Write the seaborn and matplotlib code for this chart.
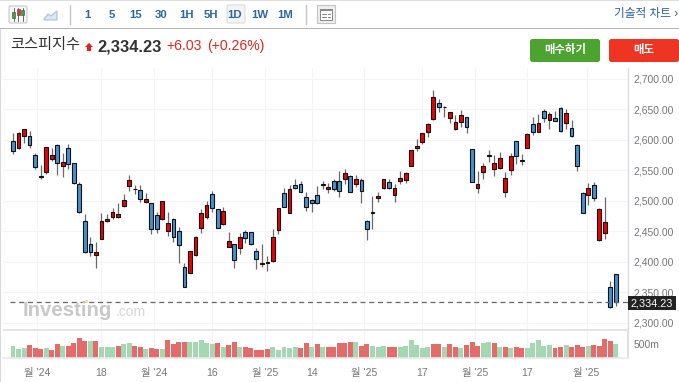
import matplotlib
matplotlib.use('Agg')
import matplotlib.pyplot as plt
from matplotlib.patches import FancyBboxPatch, Rectangle, Polygon
import numpy as np
import pandas as pd
import seaborn as sns

opens = [2597.8,2586.9,2606.6,2606.6,2574.9,2541.0,2548.1,2569.4,2591.8,2557.4,2586.4,2561.8,2527.3,2467.8,2429.0,2411.0,2438.3,2467.2,2474.3,2473.3,
         2491.8,2524.1,2520.2,2518.1,2498.9,2496.2,2477.6,2470.5,2450.3,2470.0,2450.3,2391.3,2382.6,2411.5,2456.3,2473.3,2511.0,2486.4,2461.8,2425.2,
         2429.0,2423.0,2448.7,2448.7,2418.6,2398.4,2400.0,2401.1,2451.9,2512.6,2480.9,2525.7,2528.4,2506.0,2501.1,2510.4,2527.4,2519.7,2532.3,2532.3,
         2535.6,2541.0,2528.5,2533.9,2467.8,2481.5,2504.4,2520.8,2531.2,2509.3,2532.3,2533.9,2558.0,2587.5,2596.2,2613.7,2633.9,2660.7,2654.7,2635.6,
         2617.5,2629.6,2637.2,2584.7,2520.8,2548.1,2573.3,2553.0,2554.1,2515.3,2551.4,2597.9,2566.7,2587.5,2626.3,2613.7,2648.1,2633.4,2636.1,2652.5,
         2627.9,2619.2,2591.8,2512.6,2510.4,2525.7,2435.6,2448.1,2358.5,2379.8]
closes = [2582.5,2612.0,2617.5,2592.4,2555.2,2539.9,2589.1,2576.0,2562.9,2564.5,2560.1,2530.1,2482.0,2415.9,2417.0,2415.9,2467.8,2470.5,2482.0,2479.3,
          2501.1,2533.9,2519.1,2502.8,2503.8,2454.7,2453.6,2499.5,2463.4,2440.5,2427.4,2359.6,2417.5,2441.6,2480.4,2493.5,2488.0,2456.3,2483.1,2434.5,
          2402.8,2440.5,2438.8,2429.0,2404.4,2397.3,2398.4,2440.5,2488.0,2490.7,2519.1,2520.8,2515.3,2489.6,2496.8,2496.2,2526.3,2522.5,2519.7,2517.0,
          2546.5,2515.4,2535.6,2517.0,2453.6,2480.4,2507.7,2535.6,2520.8,2520.8,2538.3,2546.5,2583.1,2590.8,2611.0,2626.3,2671.1,2653.6,2653.6,2645.4,
          2629.0,2640.5,2620.8,2531.7,2528.5,2556.9,2575.5,2562.9,2570.0,2537.2,2574.4,2573.3,2565.6,2610.4,2612.6,2627.9,2636.1,2642.1,2631.7,2614.8,
          2643.8,2606.1,2556.9,2480.4,2520.8,2505.0,2486.4,2465.1,2325.7,2334.23]
highs = [2610.9,2613.1,2617.5,2614.2,2578.2,2559.0,2589.1,2586.4,2593.5,2579.3,2593.5,2561.8,2531.2,2478.2,2440.5,2432.3,2479.8,2478.7,2488.0,2497.3,
         2511.5,2542.1,2525.7,2526.3,2512.6,2496.2,2482.5,2499.5,2482.5,2471.6,2457.9,2398.9,2418.6,2442.1,2486.4,2500.0,2516.4,2486.4,2490.7,2448.7,
         2429.0,2447.0,2452.5,2449.8,2423.0,2429.0,2410.4,2453.6,2488.5,2520.8,2526.3,2535.5,2533.4,2514.2,2503.8,2524.6,2532.8,2529.0,2536.1,2549.2,
         2552.0,2542.1,2543.2,2537.2,2468.9,2508.3,2514.3,2536.1,2536.7,2527.9,2549.2,2548.1,2583.7,2601.1,2612.1,2628.5,2682.0,2667.3,2655.8,2645.4,
         2641.0,2649.2,2638.3,2585.3,2549.2,2561.8,2583.6,2574.9,2579.8,2547.0,2579.3,2599.0,2576.5,2611.0,2638.3,2642.7,2650.9,2645.4,2648.1,2653.6,
         2650.3,2632.8,2592.9,2514.8,2530.1,2531.7,2488.0,2506.1,2369.5,2379.8]
lows = [2577.1,2585.8,2595.6,2586.9,2551.9,2536.6,2543.7,2565.6,2542.6,2539.9,2553.0,2527.9,2480.9,2415.3,2410.4,2390.7,2437.2,2465.6,2471.1,2472.2,
        2490.7,2517.0,2511.5,2498.4,2497.3,2445.9,2448.1,2469.4,2442.7,2433.4,2397.8,2358.5,2381.5,2410.4,2448.1,2470.0,2482.5,2455.2,2460.7,2424.1,
        2389.6,2413.1,2431.7,2428.4,2388.0,2391.3,2385.8,2400.6,2446.5,2489.6,2479.8,2519.1,2514.8,2483.6,2482.5,2495.1,2520.3,2513.7,2516.5,2507.2,
        2527.9,2514.3,2523.6,2497.3,2436.1,2453.6,2498.9,2519.7,2519.7,2498.9,2527.4,2529.0,2557.4,2582.6,2592.9,2605.5,2632.8,2646.5,2638.3,2627.4,
        2616.4,2620.8,2611.0,2531.2,2513.7,2535.6,2564.5,2541.6,2552.0,2506.1,2542.1,2560.7,2559.1,2586.4,2607.7,2612.6,2629.5,2618.1,2630.6,2613.2,
        2618.6,2605.0,2549.8,2479.8,2493.5,2500.6,2435.0,2438.3,2325.2,2327.9]
volumes = [440,309,345,464,369,309,345,274,488,440,417,524,702,595,595,595,405,381,381,417,
           488,524,417,381,309,345,321,309,631,488,583,571,559,559,631,524,500,524,405,464,
           559,405,381,345,286,274,309,381,274,381,369,381,345,524,381,488,405,405,405,524,
           524,559,559,440,488,440,405,428,405,381,405,428,631,464,345,405,488,500,405,500,
           381,369,464,559,440,524,559,524,405,381,369,405,345,369,524,631,440,464,345,405,
           464,381,464,405,440,464,440,666,595,500]
vol_colors = list('gggrrrgrrgrrrrgrgggrggrrgrrgrrrrgggggrgrrgrrrrrgggggrrgrgrrr'
                  'rrgrrgggrrggggggrrgrrgrrrggrgrgrrgggggrrgrrrgrrrrg')
price_ticks = [2300, 2350, 2400, 2450, 2500, 2550, 2600, 2650, 2700]
x_tick_pos = [4.4, 16, 25.5, 36, 45.6, 54, 63.5, 74, 83.5, 93, 103.7]
x_tick_labels = ["월 '24", '18', "월 '24", '16', "월 '25", '14', "월 '25", '17', "월 '25", '17', "월 '25"]
intervals = ['1', '5', '15', '30', '1H', '5H', '1D', '1W', '1M']
last_price = 2334.23

sns.set_theme(style='white')
plt.rcParams['font.family'] = ['Liberation Sans', 'Noto Sans CJK KR', 'DejaVu Sans']

W, H = 679, 382
fig = plt.figure(figsize=(W / 100, H / 100), dpi=100)


def px_axes(left, top, right, bottom):
    return fig.add_axes([left / W, 1 - bottom / H, (right - left) / W, (bottom - top) / H])


idx = np.arange(len(opens))
xlim = (-1.81, 111.2)

# price panel
ax = px_axes(3, 68, 628, 329)
ax.set_xlim(*xlim)
ax.set_ylim(2290, 2718)
ax.set_xticks(x_tick_pos)
ax.set_xticklabels([])
ax.set_yticks(price_ticks)
ax.set_yticklabels([f'{p:,.2f}' for p in price_ticks], fontsize=7.5, color='#777777')
ax.yaxis.tick_right()
ax.tick_params(axis='both', length=0, pad=4)
ax.grid(True, color='#f4f4f6', lw=0.8)
ax.set_axisbelow(True)
for s in ['top', 'left', 'bottom']:
    ax.spines[s].set_visible(False)
ax.spines['right'].set_color('#d8dce3')
ax.spines['right'].set_linewidth(1)

opens_a, closes_a = np.array(opens), np.array(closes)
candle_colors = np.where(closes_a >= opens_a, '#f00000', '#4393d2')
ax.vlines(idx, lows, highs, color='#6a6a6a', lw=0.9, zorder=2)
ax.bar(idx, np.abs(closes_a - opens_a), bottom=np.minimum(opens_a, closes_a), width=0.68,
       color=candle_colors, edgecolor='#111111', linewidth=0.8, zorder=3)
ax.axhline(last_price, xmin=0.011, color='#666666', lw=0.9, dashes=(4, 3), zorder=4)

# volume panel
vol_ax = px_axes(3, 331, 628, 358)
vol_df = pd.DataFrame({'i': idx, 'volume': volumes, 'kind': vol_colors})
sns.barplot(data=vol_df, x='i', y='volume', hue='kind', native_scale=True, dodge=False,
            palette={'g': '#a5d7b3', 'r': '#e56b6b'}, width=0.9, saturation=1, legend=False,
            linewidth=0, ax=vol_ax)
vol_ax.set_xlim(*xlim)
vol_ax.set_ylim(0, 964)
vol_ax.set_xticks(x_tick_pos)
vol_ax.set_xticklabels(x_tick_labels, fontsize=7.5, color='#777777')
vol_ax.set_yticks([500])
vol_ax.set_yticklabels(['500m'], fontsize=7.5, color='#777777')
vol_ax.yaxis.tick_right()
vol_ax.tick_params(axis='both', length=0, pad=4)
vol_ax.tick_params(axis='x', pad=7)
vol_ax.set_xlabel('')
vol_ax.set_ylabel('')
vol_ax.grid(True, axis='x', color='#f4f4f6', lw=0.8)
vol_ax.set_axisbelow(True)
for s in ['top', 'left']:
    vol_ax.spines[s].set_visible(False)
vol_ax.spines['right'].set_color('#d8dce3')
vol_ax.spines['bottom'].set_color('#e6e8ec')

# page furniture, in pixel coordinates
ui = fig.add_axes([0, 0, 1, 1], zorder=5)
ui.set_xlim(0, W)
ui.set_ylim(H, 0)
ui.axis('off')
ui.patch.set_alpha(0)

ui.add_patch(Rectangle((0, 0), W, 1.2, color='#dddddd', lw=0))
ui.add_patch(Rectangle((0, 28), W, 1, color='#b5b5b5', lw=0))
ui.add_patch(Rectangle((0, 29), 1, 353, color='#d8d8d8', lw=0))
ui.add_patch(Rectangle((3, 329), 625, 1.6, color='#e4e4e4', lw=0))
ui.plot([70, 70], [5, 24], color='#c4c4c4', lw=1)
ui.plot([306, 306], [5, 24], color='#c4c4c4', lw=1)

# toolbar icons
ui.add_patch(FancyBboxPatch((9, 6), 18, 17, boxstyle='round,pad=0,rounding_size=1.5',
                            fc='#f6f6f6', ec='#c8c8c8', lw=0.8))
for x, y0, y1, c in [(13.5, 12, 18, '#3ea33e'), (18, 9, 15, '#d63a2e'), (22.5, 10, 15, '#3ea33e')]:
    ui.plot([x, x], [7.5, 21], color='#666666', lw=0.7)
    ui.add_patch(Rectangle((x - 1.5, y0), 3, y1 - y0, fc=c, ec='#444444', lw=0.4, zorder=3))
ui.add_patch(Polygon([(44, 19), (48, 14), (51, 16), (57, 11), (57, 20), (44, 20)],
                     fc='#dbe6f1', ec='#a9c3dc', lw=0.8))
ui.add_patch(FancyBboxPatch((227, 5), 18, 18, boxstyle='round,pad=0,rounding_size=1.5',
                            fc='#f4f4f4', ec='#dcdcdc', lw=0.8))
ui.add_patch(Rectangle((317, 5), 18, 18, fc='#eeeeee', ec='#c4c4c4', lw=0.8))
ui.add_patch(Rectangle((320, 8.5), 12, 11.5, fc='#ffffff', ec='#888888', lw=0.7))
ui.add_patch(Rectangle((320, 8.5), 12, 2.5, fc='#888888', lw=0))
ui.plot([322, 326], [14, 14], color='#888888', lw=0.8)
ui.plot([322, 326], [17, 17], color='#888888', lw=0.8)
ui.plot([328, 330], [14, 14], color='#888888', lw=0.8)
ui.plot([328, 330], [17, 17], color='#888888', lw=0.8)

for label, x in zip(intervals, [87, 112, 136, 161, 186, 211, 235, 260, 285]):
    ui.text(x, 14.5, label, ha='center', va='center', fontsize=8.2, color='#2a67a5', fontweight='bold')
ui.text(678, 13.5, '기술적 차트 ›', ha='right', va='center', fontsize=8.4, color='#2a5f9e')

# quote header
ui.text(10, 45.5, '코스피지수', ha='left', va='center', fontsize=11, color='#333333')
ui.add_patch(Polygon([(85, 47), (89, 43), (93, 47), (91, 47), (91, 51), (87, 51), (87, 47)], fc='#e81c1c', lw=0))
ui.text(97, 47.5, f'{last_price:,.2f}', ha='left', va='center', fontsize=11.8, color='#333333', fontweight='bold')
ui.text(166, 46, '+6.03', ha='left', va='center', fontsize=10.1, color='#e0281e')
ui.text(207, 46, '(+0.26%)', ha='left', va='center', fontsize=10.1, color='#e0281e')

# buy / sell buttons
ui.add_patch(FancyBboxPatch((530, 39), 70, 23, boxstyle='round,pad=0,rounding_size=2.5', fc='#4da32f', lw=0))
ui.add_patch(FancyBboxPatch((609, 39), 70, 23, boxstyle='round,pad=0,rounding_size=2.5', fc='#ee3524', lw=0))
ui.text(565, 50, '매수하기', ha='center', va='center', fontsize=8.2, color='white', fontweight='bold')
ui.text(644, 50, '매도', ha='center', va='center', fontsize=8.2, color='white', fontweight='bold')

# watermark
ui.text(23, 310, 'Investing', ha='left', va='center', fontsize=14.7, color='#c8c8c8', fontweight='bold')
ui.plot([86], [300.5], marker='o', ms=2.2, color='#f6d9a8', mew=0)
ui.text(115.5, 312, '.com', ha='left', va='center', fontsize=10, color='#d6d6d6')

# last price tag
ui.add_patch(Rectangle((628, 296), 48, 14, fc='#222222', lw=0))
ui.text(652, 303, f'{last_price:,.2f}', ha='center', va='center', fontsize=7.8, color='white')

fig.savefig('out.png', dpi=100)
